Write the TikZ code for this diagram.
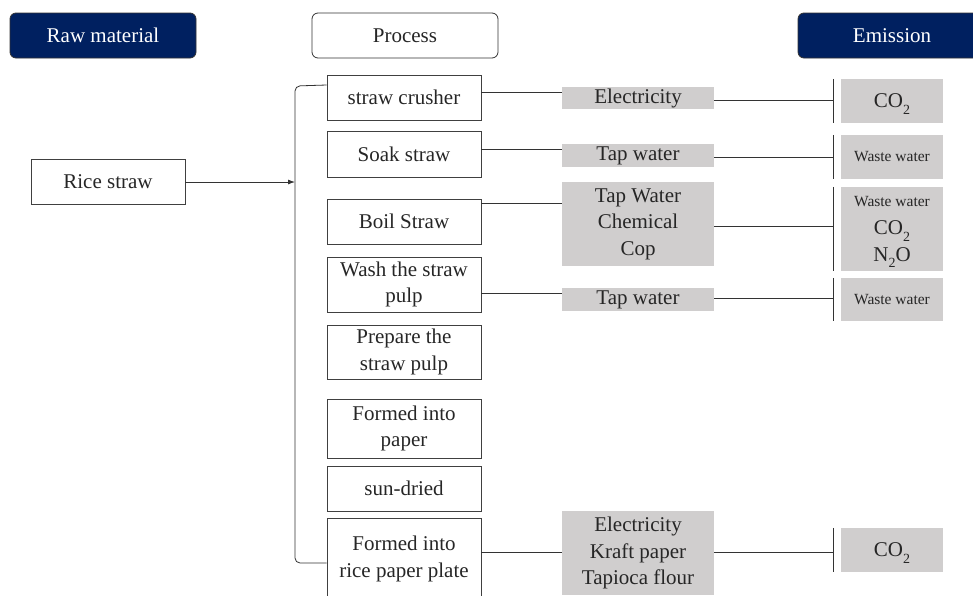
\documentclass[tikz,border=0pt]{standalone}
\usepackage{fontspec}
\setmainfont{Liberation Serif}
\newfontfamily\tnr{Liberation Serif}
\usetikzlibrary{arrows.meta}
\definecolor{navy}{RGB}{0,32,96}
\definecolor{boxgray}{RGB}{208,206,206}
\definecolor{edge}{RGB}{64,64,64}
\newcommand\lowsub[1]{\smash{\raisebox{-0.3em}{\fontsize{14}{14}\selectfont #1}}}
\begin{document}
\begin{tikzpicture}[x=1pt,y=-1pt,
  every node/.style={font=\tnr\fontsize{21}{26.5}\selectfont, align=center, inner sep=0pt, text=black!85},
  hdr/.style={draw=black!80, rounded corners=6pt, line width=0.8pt, minimum width=186pt, minimum height=45pt},
  hdrdark/.style={hdr, fill=navy, text=white},
  pbox/.style={draw=edge, line width=0.9pt, minimum width=154pt},
  ibox/.style={fill=boxgray, minimum width=152pt},
  ebox/.style={fill=boxgray, minimum width=102pt},
  conn/.style={draw=black!80, line width=0.8pt},
  small/.style={font=\tnr\fontsize{15.5}{18}\selectfont}]
\useasboundingbox (0,0) rectangle (973,595);

% headers
\node[hdrdark] (hraw) at (103,35.5) {Raw material};
\node[hdr, fill=white] (hproc) at (405,35.5) {Process};
\node[hdrdark, minimum width=188pt] (hemi) at (892,35.5) {Emission};

% raw material
\node[pbox, minimum height=45pt] (rice) at (108,181.5) {Rice straw};

% process boxes
\node[pbox, minimum height=45pt] (p1) at (404,97.5) {straw crusher};
\node[pbox, minimum height=46pt] (p2) at (404,154) {Soak straw};
\node[pbox, minimum height=45pt] (p3) at (404,221.5) {Boil Straw};
\node[pbox, minimum height=55pt] (p4) at (404,284.5) {Wash the straw\\pulp};
\node[pbox, minimum height=54pt] (p5) at (404,352) {Prepare the\\straw pulp};
\node[pbox, minimum height=59pt] (p6) at (404,428.5) {Formed into\\paper};
\node[pbox, minimum height=45pt] (p7) at (404,488.5) {sun-dried};
\node[pbox, minimum height=82pt] (p8) at (404,559) {Formed into\\rice paper plate};

% inputs
\node[ibox, minimum height=22pt] (i1) at (638,98) {Electricity};
\node[ibox, minimum height=23pt] (i2) at (638,155.5) {Tap water};
\node[ibox, minimum height=84pt] (i3) at (638,224) {Tap Water\\Chemical\\Cop};
\node[ibox, minimum height=23pt] (i4) at (638,299.5) {Tap water};
\node[ibox, minimum height=84pt] (i8) at (638,553) {Electricity\\Kraft paper\\Tapioca flour};

% emissions
\node[ebox, minimum height=44pt] (e1) at (892,101) {CO\lowsub{2}};
\node[ebox, minimum height=44pt, small] (e2) at (892,157) {Waste water};
\node[ebox, minimum height=84pt] (e3) at (892,229) {{\tnr\fontsize{15.5}{18}\selectfont Waste water}\\[2pt]CO\lowsub{2}\\N\lowsub{2}O};
\node[ebox, minimum height=43pt, small] (e4) at (892,299.5) {Waste water};
\node[ebox, minimum height=44pt] (e8) at (892,550) {CO\lowsub{2}};

% bracket and arrow
\coordinate (bk) at (295,182);
\draw[conn, rounded corners=5pt] (p1.west |- 0,85) -- (295,86) -- (295,563) -- (p8.west |- 0,563);
\draw[conn, -{Latex[length=7pt,width=5pt]}] (rice.east |- bk) -- (bk);

% process -> input
\draw[conn] (p1.east |- 0,92) -- (i1.west |- 0,92);
\draw[conn] (p2.east |- 0,149) -- (i2.west |- 0,149);
\draw[conn] (p3.east |- 0,203) -- (i3.west |- 0,203);
\draw[conn] (p4.east |- 0,293) -- (i4.west |- 0,293);
\draw[conn] (p8.east |- 0,552) -- (i8.west |- 0,552);

% input -> emission brackets
\foreach \i/\y in {1/100, 2/157, 3/226, 4/298, 8/552}{
  \draw[conn] ([xshift=-7pt]e\i.north west) -- ([xshift=-7pt]e\i.south west);
  \draw[conn] (i\i.east |- 0,\y) -- ([xshift=-7pt]e\i.west |- 0,\y);
}
\end{tikzpicture}
\end{document}
